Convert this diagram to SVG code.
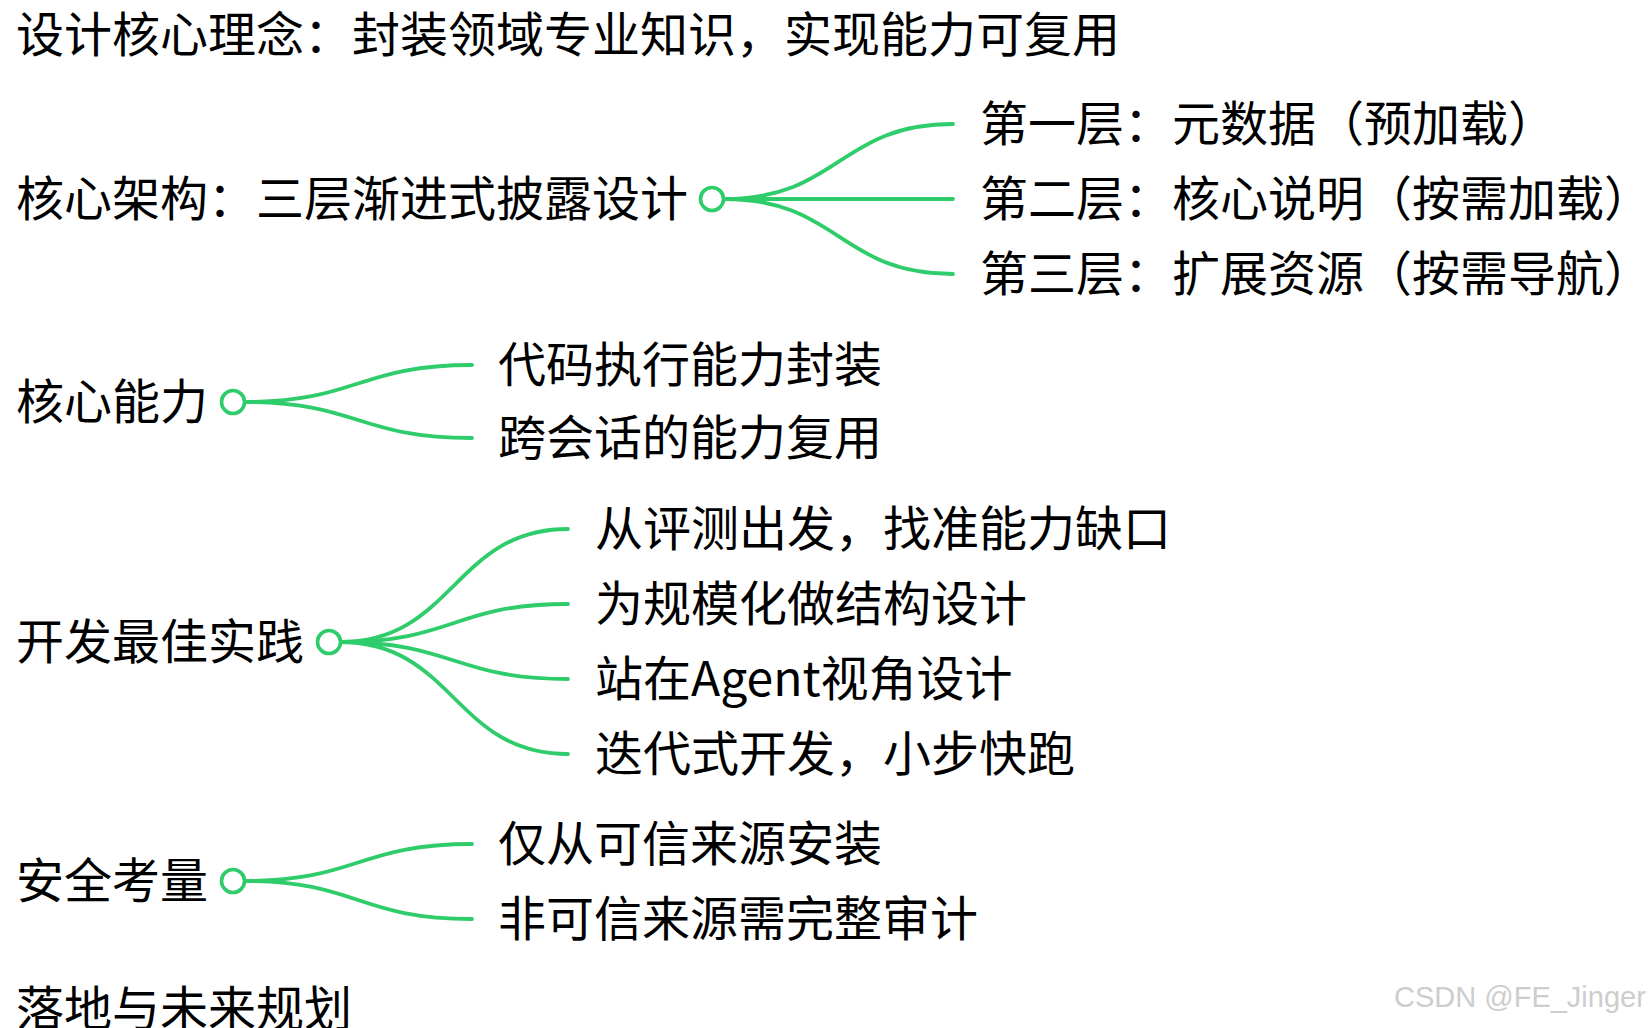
<svg xmlns="http://www.w3.org/2000/svg" width="1652" height="1028" viewBox="0 0 1652 1028">
<style>
text{font-family:"Noto Sans CJK SC","Noto Sans",sans-serif;font-size:48px;fill:#000}
.dot{fill:#fff;stroke:#2fcc6b;stroke-width:3.6}
.link{fill:none;stroke:#2fcc6b;stroke-width:3.8;stroke-linecap:round}
.wm{font-family:"Liberation Sans",Arial,sans-serif;font-size:29px;fill:#cdcdcd}
</style>
<rect width="1652" height="1028" fill="#fff"/>
<g id="connectors">
<path class="link" d="M724,199 C839,199 839,124 953,124"/>
<path class="link" d="M724,199 L953,199"/>
<path class="link" d="M724,199 C839,199 839,274 953,274"/>
<path class="link" d="M244,402 C358,402 358,365 472,365"/>
<path class="link" d="M244,402 C358,402 358,438 472,438"/>
<path class="link" d="M340,642 C454,642 454,529 568,529"/>
<path class="link" d="M340,642 C454,642 454,604 568,604"/>
<path class="link" d="M340,642 C454,642 454,679 568,679"/>
<path class="link" d="M340,642 C454,642 454,754 568,754"/>
<path class="link" d="M244,881 C358,881 358,844 472,844"/>
<path class="link" d="M244,881 C358,881 358,919 472,919"/>
</g>
<g id="n-title"><text x="16" y="52">设计核心理念：封装领域专业知识，实现能力可复用</text></g>
<g id="n-arch"><text x="16" y="216">核心架构：三层渐进式披露设计</text><circle class="dot" cx="712" cy="199" r="11.5"/></g>
<g id="n-arch-1"><text x="980" y="141">第一层：元数据（预加载）</text></g>
<g id="n-arch-2"><text x="980" y="216">第二层：核心说明（按需加载）</text></g>
<g id="n-arch-3"><text x="980" y="291">第三层：扩展资源（按需导航）</text></g>
<g id="n-cap"><text x="16" y="419">核心能力</text><circle class="dot" cx="233" cy="402" r="11.5"/></g>
<g id="n-cap-1"><text x="498" y="382">代码执行能力封装</text></g>
<g id="n-cap-2"><text x="498" y="455">跨会话的能力复用</text></g>
<g id="n-dev"><text x="16" y="659">开发最佳实践</text><circle class="dot" cx="329" cy="642" r="11.5"/></g>
<g id="n-dev-1"><text x="595" y="546">从评测出发，找准能力缺口</text></g>
<g id="n-dev-2"><text x="595" y="621">为规模化做结构设计</text></g>
<g id="n-dev-3"><text x="595" y="696">站在Agent视角设计</text></g>
<g id="n-dev-4"><text x="595" y="771">迭代式开发，小步快跑</text></g>
<g id="n-sec"><text x="16" y="898">安全考量</text><circle class="dot" cx="233" cy="881" r="11.5"/></g>
<g id="n-sec-1"><text x="498" y="861">仅从可信来源安装</text></g>
<g id="n-sec-2"><text x="498" y="936">非可信来源需完整审计</text></g>
<g id="n-plan"><text x="16" y="1026">落地与未来规划</text></g>
<text class="wm" x="1394" y="1007">CSDN @FE_Jinger</text>
</svg>
